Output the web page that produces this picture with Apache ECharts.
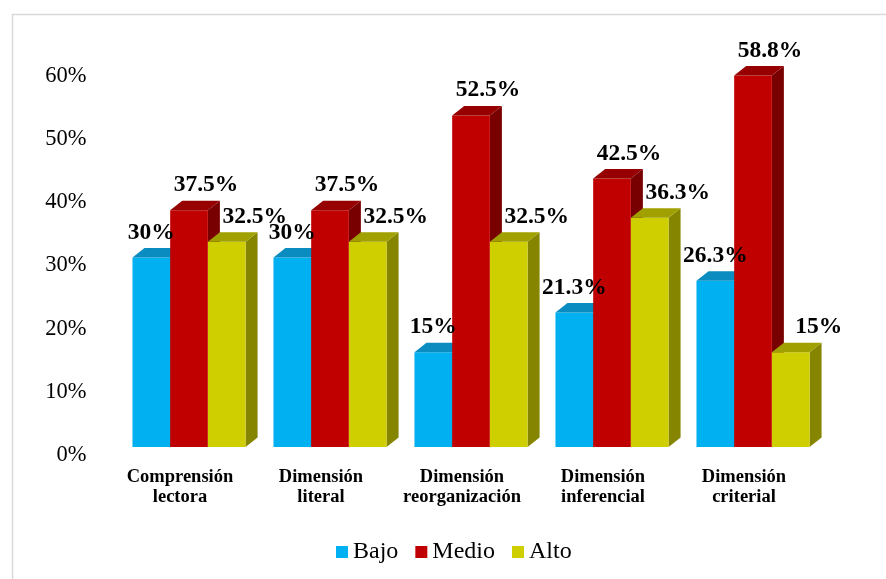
<!DOCTYPE html>
<html>
<head>
<meta charset="utf-8">
<script src="https://cdn.jsdelivr.net/npm/echarts@6/dist/echarts.min.js"></script>
<style>
html,body{margin:0;padding:0;background:#fff;}
#chart{width:886px;height:579px;}
</style>
</head>
<body>
<div id="chart"></div>
<script>
const categories = ['Comprensión\nlectora', 'Dimensión\nliteral', 'Dimensión\nreorganización', 'Dimensión\ninferencial', 'Dimensión\ncriterial'];
const seriesNames = ['Bajo', 'Medio', 'Alto'];
const bajo = [30, 30, 15, 21.3, 26.3];
const medio = [37.5, 37.5, 52.5, 42.5, 58.8];
const alto = [32.5, 32.5, 32.5, 36.3, 15];
const yMin = 0, yMax = 60, yStep = 10;

const FONT = '"Liberation Serif", "Times New Roman", serif';
const faces = [
  {front: '#00B0F0', top: '#0a8cc0', side: '#0a7aa8'},
  {front: '#C00000', top: '#960000', side: '#780000'},
  {front: '#CFCF00', top: '#A0A000', side: '#858500'}
];
const labelShift = [0, 17, 28];

function makeRender(sIdx) {
  return function (params, api) {
    const ci = api.value(0), v = api.value(1);
    const base = api.coord([ci, 0]);
    const topP = api.coord([ci, v]);
    const band = api.size([1, 0])[0];
    const bw = band * 0.2674;
    const x0 = base[0] + band * 0.064 - 1.5 * bw + sIdx * bw;
    const yb = base[1] - 8, yt = topP[1] - 8;
    const dx = 12, dy = 9.5;
    const c = faces[sIdx];
    return {
      type: 'group',
      children: [
        {type: 'polygon', z2: sIdx * 3 + 1, shape: {points: [[x0 + bw, yt], [x0 + bw + dx, yt - dy], [x0 + bw + dx, yb - dy], [x0 + bw, yb]]}, style: {fill: c.side}},
        {type: 'rect', z2: sIdx * 3 + 2, shape: {x: x0, y: yt, width: bw, height: yb - yt}, style: {fill: c.front}},
        {type: 'polygon', z2: sIdx * 3 + 3, shape: {points: [[x0, yt], [x0 + bw, yt], [x0 + bw + dx, yt - dy], [x0 + dx, yt - dy]]}, style: {fill: c.top}},
        {type: 'text', z2: 50, style: {x: x0 + bw / 2 + labelShift[sIdx], y: yt - 25, text: v + '%', textAlign: 'center', textVerticalAlign: 'middle', font: 'bold 23.5px ' + FONT, fill: '#000'}}
      ]
    };
  };
}

const values = [bajo, medio, alto];
const series = seriesNames.map((name, s) => ({
  name: name,
  type: 'custom',
  renderItem: makeRender(s),
  itemStyle: {color: faces[s].front},
  encode: {x: 0, y: 1},
  data: values[s].map((v, i) => [i, v])
}));

const chart = echarts.init(document.getElementById('chart'));
chart.setOption({
  animation: false,
  backgroundColor: '#fff',
  graphic: [{
    type: 'rect', left: 10, top: 12,
    shape: {width: 1000, height: 700},
    style: {fill: 'none', stroke: '#d9d9d9', lineWidth: 1.5}
  }],
  grid: {left: 109.5, right: 71.5, top: 76, bottom: 124},
  legend: {
    data: seriesNames,
    left: 331, top: 535,
    icon: 'rect', itemWidth: 12, itemHeight: 12, itemGap: 17,
    textStyle: {fontFamily: FONT, fontSize: 24, color: '#000', padding: [0, 0, 0, 0]}
  },
  xAxis: {
    type: 'category', data: categories,
    axisLine: {show: false}, axisTick: {show: false},
    axisLabel: {interval: 0, margin: 12, fontFamily: FONT, fontWeight: 'bold', fontSize: 18.5, lineHeight: 20, color: '#000'}
  },
  yAxis: {
    type: 'value', min: yMin, max: yMax, interval: yStep,
    splitLine: {show: false}, axisLine: {show: false}, axisTick: {show: false},
    axisLabel: {formatter: '{value}%', margin: 23, fontFamily: FONT, fontSize: 22.5, color: '#000'}
  },
  series: series
});
</script>
</body>
</html>
